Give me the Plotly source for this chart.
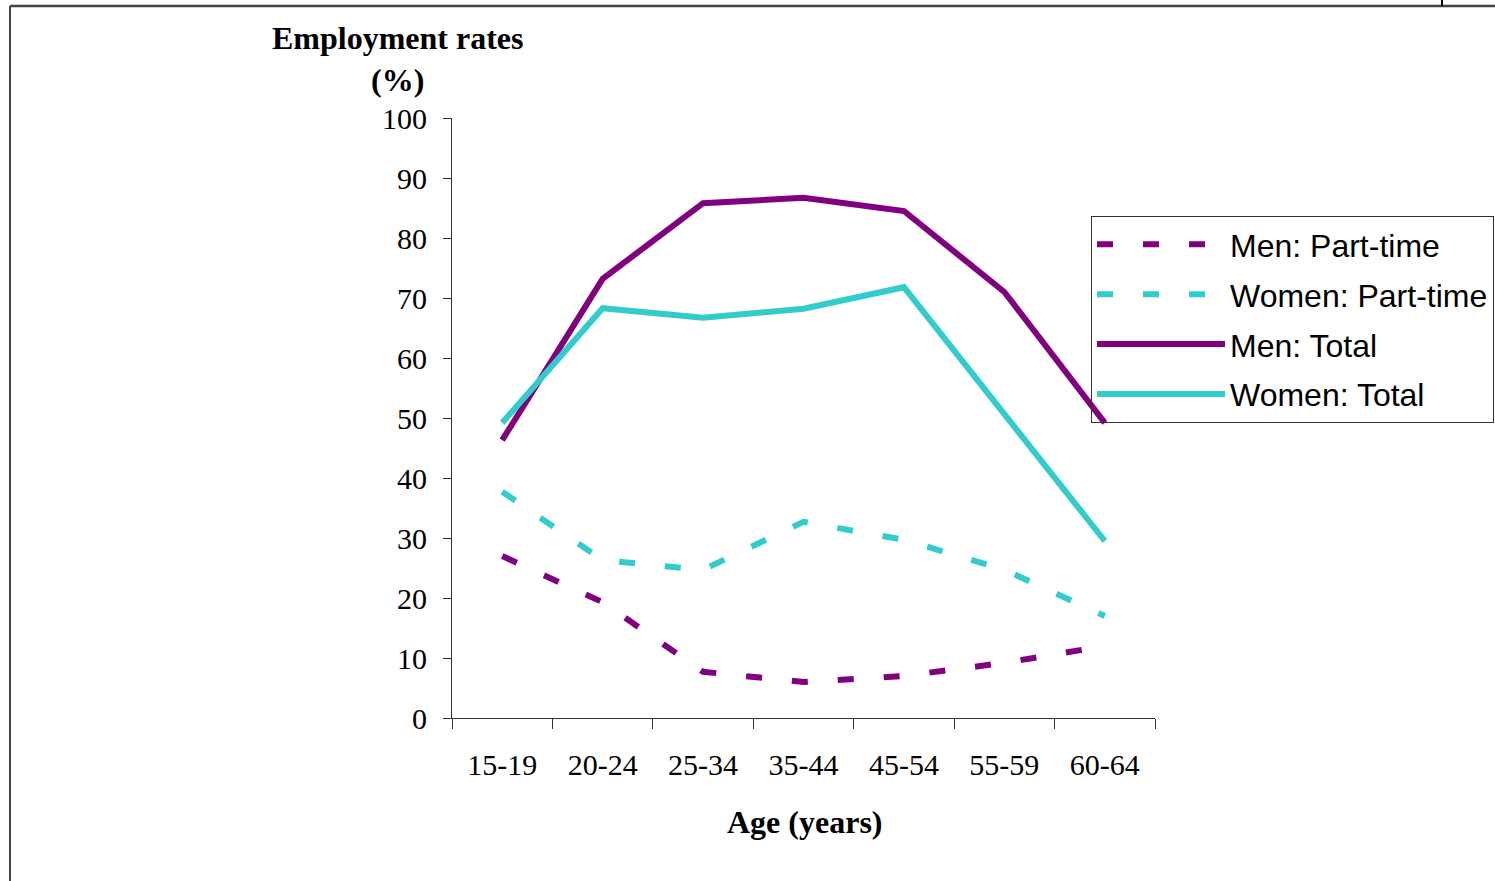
import plotly.graph_objects as go

# Age groups on the horizontal axis
age_groups = ["15-19", "20-24", "25-34", "35-44", "45-54", "55-59", "60-64"]

# Employment rates (%) by age group
men_part_time = [27.0, 19.3, 7.7, 6.0, 7.0, 9.2, 12.0]
women_part_time = [37.7, 26.3, 24.7, 32.7, 29.7, 24.7, 17.0]
men_total = [46.3, 73.2, 85.8, 86.7, 84.5, 71.0, 49.2]
women_total = [49.2, 68.3, 66.7, 68.2, 71.8, 50.5, 29.5]

y_ticks = list(range(0, 101, 10))

PURPLE = "#800080"
CYAN = "#33CCCC"
SERIF = "Liberation Serif, Times New Roman, serif"
SANS = "Liberation Sans, Arial, sans-serif"

W, H = 1495, 881
L, R, T, B = 452, 1155, 118, 718  # plot area edges in pixels


def px_x(p):
    return (p - L) / (R - L)


def px_y(p):
    return (B - p) / (B - T)


fig = go.Figure()

series = [
    ("Men: Part-time", men_part_time, PURPLE, "16px,30px"),
    ("Women: Part-time", women_part_time, CYAN, "16px,30px"),
    ("Men: Total", men_total, PURPLE, "solid"),
    ("Women: Total", women_total, CYAN, "solid"),
]
for i, (name, vals, color, dash) in enumerate(series):
    fig.add_trace(go.Scatter(
        x=age_groups, y=vals, name=name, mode="lines",
        line=dict(color=color, width=6, dash=dash),
        legendgroup=f"g{i}",
    ))

fig.update_layout(
    width=W, height=H,
    margin=dict(l=L, r=W - R, t=T, b=H - B, autoexpand=False),
    paper_bgcolor="white", plot_bgcolor="white",
    showlegend=True,
    legend=dict(
        x=px_x(1091), y=px_y(216), xanchor="left", yanchor="top",
        bordercolor="#333333", borderwidth=1, bgcolor="rgba(0,0,0,0)",
        font=dict(family=SANS, size=32, color="black"),
        itemwidth=128, tracegroupgap=5.3,
    ),
    xaxis=dict(
        type="category", range=[-0.5, 6.5],
        showline=True, linecolor="#333333", linewidth=1,
        ticks="outside", tickson="boundaries", ticklen=10, tickcolor="#333333",
        tickfont=dict(family=SERIF, size=30, color="black"),
        ticklabelstandoff=20,
        showgrid=False, zeroline=False,
    ),
    yaxis=dict(
        range=[0, 100], tickvals=y_ticks,
        showline=True, linecolor="#333333", linewidth=1,
        ticks="outside", ticklen=8, tickcolor="#333333",
        tickfont=dict(family=SERIF, size=30, color="black"),
        ticklabelstandoff=10,
        showgrid=False, zeroline=False,
    ),
    annotations=[
        dict(text="<b>Employment rates</b><br><b>(%)</b>", xref="paper", yref="paper",
             x=px_x(398), y=px_y(59), xanchor="center", yanchor="middle",
             showarrow=False, font=dict(family=SERIF, size=32, color="black")),
        dict(text="<b>Age (years)</b>", xref="paper", yref="paper",
             x=px_x(804), y=px_y(822), xanchor="center", yanchor="middle",
             showarrow=False, font=dict(family=SERIF, size=32, color="black")),
    ],
    shapes=[
        dict(type="line", xref="paper", yref="paper",
             x0=px_x(10), x1=px_x(W), y0=px_y(6), y1=px_y(6),
             line=dict(color="#444444", width=2.5)),
        dict(type="line", xref="paper", yref="paper",
             x0=px_x(10), x1=px_x(10), y0=px_y(6), y1=px_y(H),
             line=dict(color="#444444", width=2)),
        dict(type="line", xref="paper", yref="paper",
             x0=px_x(1442), x1=px_x(1442), y0=px_y(0), y1=px_y(6),
             line=dict(color="black", width=2)),
    ],
)

fig.write_html("out.html")
